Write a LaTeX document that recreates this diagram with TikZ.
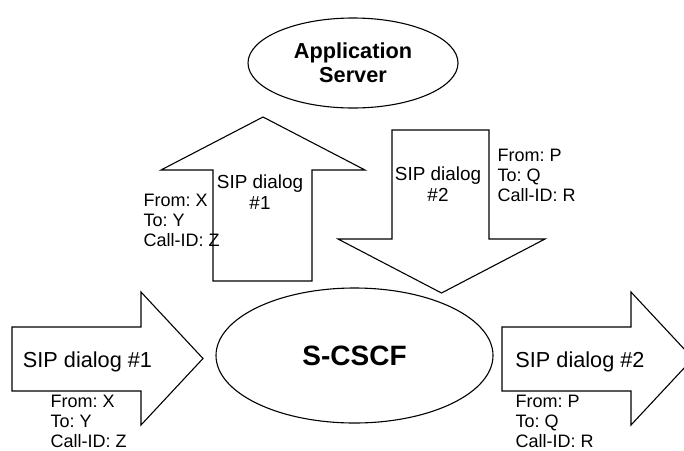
\documentclass[tikz,border=0pt]{standalone}
\usepackage{fontspec}
\setmainfont{Liberation Sans}
\usetikzlibrary{shapes.geometric}
\frenchspacing
\begin{document}
\begin{tikzpicture}[x=0.5pt, y=-0.5pt, line width=0.55pt,
  main/.style = {draw, ellipse, inner sep=0pt, align=center, font=\bfseries},
  dlg/.style = {align=center, inner sep=0pt, font=\fontsize{10.85}{12}\selectfont},
  vdlg/.style = {align=center, inner sep=0pt, font=\fontsize{9.45}{10.5}\selectfont},
  hdr/.style = {align=left, inner sep=0pt, anchor=north west, font=\fontsize{9}{10}\selectfont}]
    \useasboundingbox (0,0) rectangle (684,450);
    \clip (0,0) rectangle (684,450);
    \node[main, minimum width=105pt, minimum height=45pt, font=\bfseries\fontsize{10.85}{12}\selectfont] (as) at (353,63) {Application\\Server};
    \node[main, minimum width=138.5pt, minimum height=67.5pt, font=\bfseries\fontsize{14}{16}\selectfont] (scscf) at (354.5,355.5) {S-CSCF};
    % block arrows
    \draw (12,327) -- (141,327) -- (141,292) -- (203,358.5) -- (141,425) -- (141,391) -- (12,391) -- cycle;
    \draw (502,327) -- (631,327) -- (631,292) -- (693,358.5) -- (631,425) -- (631,391) -- (502,391) -- cycle;
    \draw (213,281) -- (213,170) -- (161,170) -- (263,117) -- (365,170) -- (312,170) -- (312,281) -- cycle;
    \draw (392,130) -- (489,130) -- (489,239) -- (545,239) -- (441.5,293) -- (338,239) -- (392,239) -- cycle;
    % dialog labels
    \node[dlg, anchor=base] (in1) at (87.5,367) {SIP dialog \#1};
    \node[dlg, anchor=base] (out2) at (580,367) {SIP dialog \#2};
    \node[vdlg] (up1) at (260,192) {SIP dialog\\\#1};
    \node[vdlg] (down2) at (438,184) {SIP dialog\\\#2};
    % headers
    \node[hdr] (hup) at (143,194) {From: X\\To: Y\\Call-ID: Z};
    \node[hdr] (hdown) at (497,149) {From: P\\To: Q\\Call-ID: R};
    \node[hdr] (hin) at (50,395) {From: X\\To: Y\\Call-ID: Z};
    \node[hdr] (hout) at (515,395) {From: P\\To: Q\\Call-ID: R};
\end{tikzpicture}
\end{document}
